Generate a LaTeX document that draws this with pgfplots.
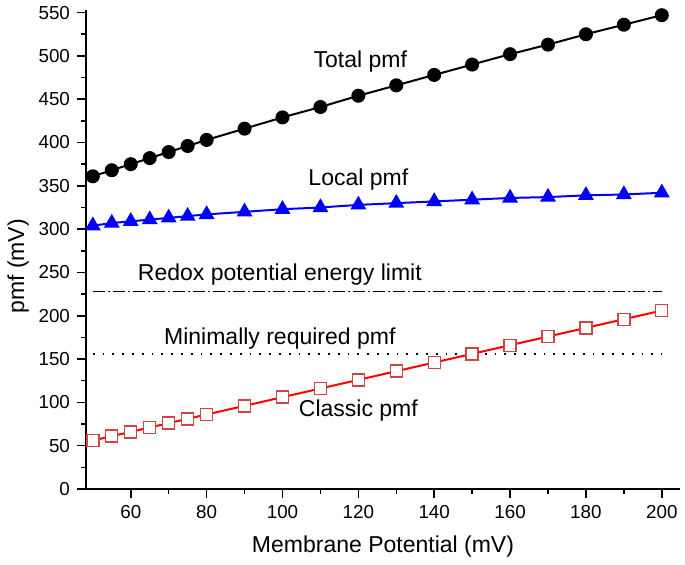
\documentclass[border=0pt]{standalone}
\usepackage{pgfplots}
\pgfplotsset{compat=1.18}
\usepackage{fontspec}
\setmainfont{Liberation Sans}
\definecolor{sqedge}{RGB}{205,70,70}
\begin{document}
\begin{tikzpicture}
\path[use as bounding box] (-43pt,-38pt) rectangle (299.5pt,244.5pt);
\begin{axis}[
  at={(0,0)}, anchor=south west,
  scale only axis,
  width=297pt, height=239.5pt,
  xmin=48.2, xmax=204.8, ymin=0, ymax=553,
  axis x line*=bottom, axis y line*=left,
  axis line style={line width=0.75pt},
  tick align=outside,
  xtick={60,80,...,200}, ytick={0,50,...,550},
  minor tick num=1,
  major tick length=4.5pt, minor tick length=2.5pt,
  tick style={line width=0.75pt, black},
  ticklabel style={font=\fontsize{9.4}{11}\selectfont},
  /pgf/number format/assume math mode=true,
  xlabel={Membrane Potential (mV)},
  ylabel={pmf (mV)},
  label style={font=\fontsize{11.5}{13}\selectfont},
  xlabel style={at={(axis description cs:0.5,-0.121)}, anchor=center},
  ylabel style={at={(axis description cs:-0.114,0.465)}, anchor=center},
  clip=false,
]
\addplot[black, line width=1pt, mark=*, mark size=3pt, mark options={fill=black}] coordinates {
(50,361)(55,368)(60,375)(65,382)(70,389)(75,396)(80,403)(90,416)(100,429)(110,441)(120,454)(130,466)(140,478)(150,490)(160,502)(170,513)(180,525)(190,536)(200,547)};
\addplot[blue, line width=1pt, mark=triangle*, mark size=3.6pt, mark options={fill=blue}] coordinates {
(50,304)(55,307)(60,309)(65,311)(70,313)(75,315)(80,317)(90,320)(100,323)(110,325)(120,328)(130,330)(140,332)(150,334)(160,336)(170,337)(180,339)(190,340)(200,342)};
\addplot[red, line width=1pt, mark=square*, mark size=3pt, mark options={fill=white, draw=sqedge, line width=0.7pt}] coordinates {
(50,56)(55,61)(60,66)(65,71)(70,76)(75,81)(80,86)(90,96)(100,106)(110,116)(120,126)(130,136)(140,146)(150,156)(160,166)(170,176)(180,186)(190,196)(200,206)};
\addplot[black, line width=0.6pt, dash pattern=on 6pt off 1.5pt on 1pt off 1.5pt] coordinates {(50,228)(200,228)};
\addplot[black, line width=0.9pt, dash pattern=on 0.9pt off 4pt] coordinates {(50,155.5)(200,155.5)};
\node[font=\fontsize{11.5}{13}\selectfont] at (axis cs:120.5,493) {Total pmf};
\node[font=\fontsize{11.5}{13}\selectfont] at (axis cs:120,357) {Local pmf};
\node[font=\fontsize{11.5}{13}\selectfont] at (axis cs:99.3,247) {Redox potential energy limit};
\node[font=\fontsize{11.5}{13}\selectfont] at (axis cs:99.3,174) {Minimally required pmf};
\node[font=\fontsize{11.5}{13}\selectfont] at (axis cs:120,90) {Classic pmf};
\end{axis}
\end{tikzpicture}
\end{document}
